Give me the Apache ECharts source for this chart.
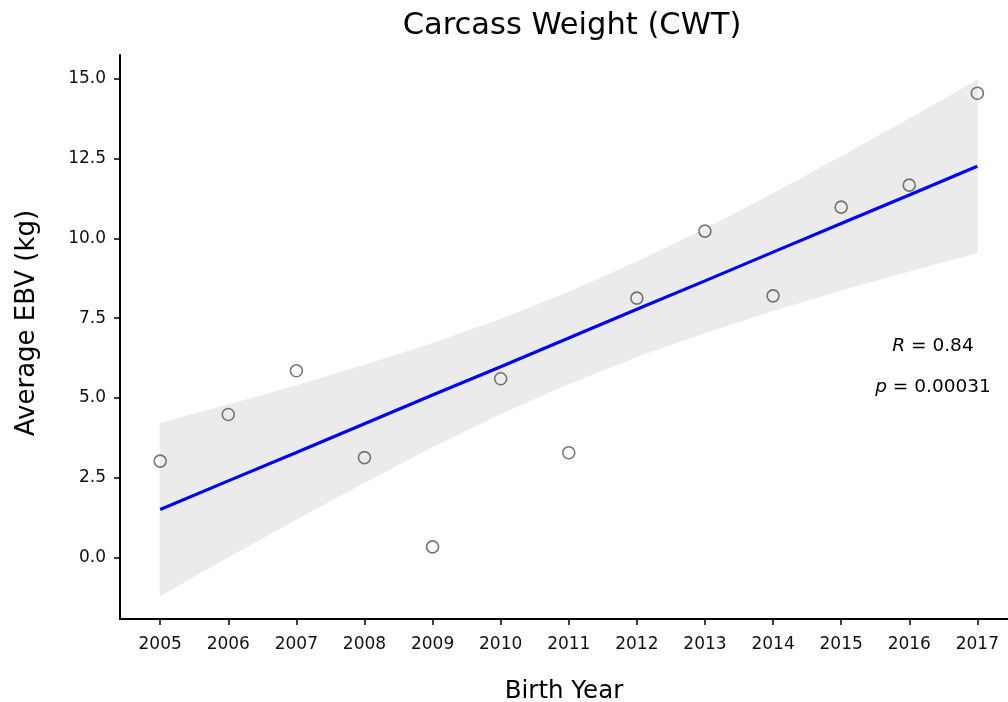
<!DOCTYPE html>
<html>
<head>
<meta charset="utf-8">
<title>Carcass Weight (CWT)</title>
<script src="https://cdn.jsdelivr.net/npm/echarts@6/dist/echarts.min.js"></script>
<style>
  html, body { margin: 0; padding: 0; background: #fff; }
  #chart { width: 1008px; height: 702px; }
</style>
</head>
<body>
<div id="chart"></div>
<script>
// values
const years = [2005, 2006, 2007, 2008, 2009, 2010, 2011, 2012, 2013, 2014, 2015, 2016, 2017]
const avgEbv = [3.02, 4.48, 5.85, 3.13, 0.33, 5.60, 3.28, 8.13, 10.23, 8.20, 10.98, 11.67, 14.55]
const fitLine = [1.50, 2.40, 3.29, 4.19, 5.09, 5.98, 6.88, 7.78, 8.67, 9.57, 10.47, 11.36, 12.26]
const bandUpper = [4.20, 4.78, 5.38, 6.02, 6.71, 7.46, 8.31, 9.26, 10.29, 11.40, 12.56, 13.74, 14.96]
const bandLower = [-1.20, 0.02, 1.20, 2.36, 3.47, 4.51, 5.45, 6.30, 7.05, 7.74, 8.38, 8.98, 9.56]
const yTicks = [0, 2.5, 5, 7.5, 10, 12.5, 15]
const statR = '0.84'
const statP = '0.00031'

const FONT = 'DejaVu Sans'

const chart = echarts.init(document.getElementById('chart'))

// one quad per year step, corners taken through the axes
const bandSegments = years.slice(0, -1).map((y, i) => [
  y, bandLower[i], bandUpper[i], years[i + 1], bandLower[i + 1], bandUpper[i + 1]
])

function renderBand(params, api) {
  const a = api.coord([api.value(0), api.value(2)])
  const b = api.coord([api.value(3), api.value(5)])
  const c = api.coord([api.value(3), api.value(4)])
  const d = api.coord([api.value(0), api.value(1)])
  return {
    type: 'polygon',
    shape: { points: [a, b, c, d] },
    style: { fill: '#ebebeb', stroke: '#ebebeb', lineWidth: 1 }
  }
}

const option = {
  backgroundColor: '#fff',
  animation: false,
  title: {
    text: 'Carcass Weight (CWT)',
    left: 567,
    top: 6,
    textAlign: 'center',
    textStyle: { fontFamily: FONT, fontSize: 30.5, fontWeight: 'normal', color: '#000' }
  },
  grid: { left: 120, right: 0, top: 55, bottom: 83, outerBoundsMode: 'none' },
  xAxis: {
    type: 'value',
    min: 2004.41,
    max: 2017.45,
    name: 'Birth Year',
    nameLocation: 'middle',
    nameGap: 60,
    nameTextStyle: { fontFamily: FONT, fontSize: 24.5, color: '#000' },
    axisLine: { onZero: false, lineStyle: { color: '#000', width: 2 } },
    axisTick: { show: true, length: 6, lineStyle: { color: '#000', width: 1.5 }, customValues: years },
    axisLabel: {
      customValues: years,
      formatter: (v) => String(v),
      margin: 17,
      fontFamily: FONT,
      fontSize: 17,
      color: '#111'
    },
    splitLine: { show: false }
  },
  yAxis: {
    type: 'value',
    min: -1.93,
    max: 15.75,
    name: 'Average EBV (kg)',
    nameLocation: 'middle',
    nameRotate: 90,
    nameGap: 80,
    nameTextStyle: { fontFamily: FONT, fontSize: 26, color: '#000', padding: [0, 0, 0, 28] },
    axisLine: { show: true, onZero: false, lineStyle: { color: '#000', width: 2 } },
    axisTick: { show: true, length: 6, lineStyle: { color: '#000', width: 1.5 }, customValues: yTicks },
    axisLabel: {
      customValues: yTicks,
      formatter: (v) => v.toFixed(1),
      margin: 14,
      fontFamily: FONT,
      fontSize: 17,
      color: '#111'
    },
    splitLine: { show: false }
  },
  graphic: [
    {
      type: 'text',
      x: 933,
      y: 346,
      z: 10,
      style: {
        text: '{i|R} = ' + statR,
        align: 'center',
        verticalAlign: 'middle',
        fontFamily: FONT,
        fontSize: 18.5,
        fill: '#000',
        rich: { i: { fontStyle: 'italic', fontFamily: FONT, fontSize: 18.5 } }
      }
    },
    {
      type: 'text',
      x: 933,
      y: 387,
      z: 10,
      style: {
        text: '{i|p} = ' + statP,
        align: 'center',
        verticalAlign: 'middle',
        fontFamily: FONT,
        fontSize: 18.5,
        fill: '#000',
        rich: { i: { fontStyle: 'italic', fontFamily: FONT, fontSize: 18.5 } }
      }
    }
  ],
  series: [
    {
      name: 'band',
      type: 'custom',
      data: bandSegments,
      renderItem: renderBand,
      encode: { x: [0, 3], y: [1, 2, 4, 5] },
      silent: true,
      z: 1
    },
    {
      name: 'fit',
      type: 'line',
      data: years.map((y, i) => [y, fitLine[i]]),
      symbol: 'none',
      lineStyle: { color: '#0000ff', width: 3.2 },
      silent: true,
      z: 2
    },
    {
      name: 'Average EBV',
      type: 'scatter',
      data: years.map((y, i) => [y, avgEbv[i]]),
      symbol: 'circle',
      symbolSize: 12,
      itemStyle: { color: 'rgba(0,0,0,0)', borderColor: '#555', borderWidth: 1.6 },
      z: 3
    }
  ]
}

chart.setOption(option)
window.addEventListener('resize', () => chart.resize())
</script>
</body>
</html>
